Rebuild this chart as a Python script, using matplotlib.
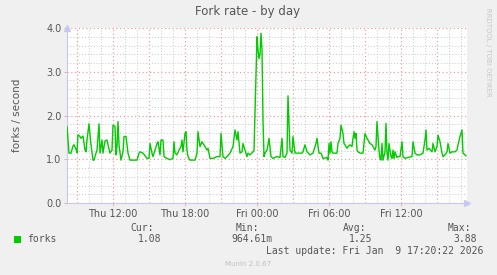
import matplotlib
matplotlib.use("Agg")
import matplotlib.pyplot as plt
import matplotlib.dates as mdates
import numpy as np
from datetime import datetime, timedelta

# ---- data (5-minute samples, index from start time) ----
start_time = datetime(2026, 1, 8, 8, 10)
sample_idx = [0, 2, 4, 6, 7, 9, 10, 11, 13, 14, 16, 18, 19, 20, 22, 24, 26, 27, 29, 30,
              32, 33, 35, 36, 38, 40, 41, 43, 45, 46, 48, 49, 50, 51, 52, 54, 56, 57, 59, 61,
              63, 68, 70, 72, 73, 76, 80, 82, 83, 85, 86, 88, 90, 91, 93, 94, 96, 97, 100, 103,
              106, 107, 108, 110, 112, 114, 115, 116, 118, 119, 120, 121, 123, 128, 130, 131, 133, 135, 136, 138,
              140, 141, 143, 146, 150, 153, 154, 156, 158, 160, 163, 166, 168, 170, 171, 173, 175, 176, 180, 181,
              183, 186, 187, 190, 191, 192, 193, 194, 195, 196, 197, 198, 200, 201, 202, 204, 206, 210, 213, 215,
              216, 218, 220, 221, 223, 225, 226, 228, 230, 233, 235, 236, 238, 240, 243, 246, 249, 250, 252, 254,
              256, 257, 260, 261, 262, 263, 264, 265, 266, 268, 270, 271, 273, 274, 276, 277, 278, 280, 281, 283,
              285, 286, 287, 288, 289, 290, 291, 293, 296, 298, 300, 301, 303, 305, 306, 308, 309, 310, 312, 313,
              314, 315, 316, 318, 319, 320, 321, 322, 324, 325, 326, 327, 328, 330, 331, 333, 335, 336, 338, 341,
              345, 346, 348, 350, 353, 356, 358, 359, 360, 362, 365, 366, 368, 370, 371, 373, 375, 376, 378, 380,
              381, 383, 385, 388, 390, 391, 393, 395, 396, 398, 399]
forks = [1.75, 1.14, 1.14, 1.30, 1.33, 1.23, 1.15, 1.56, 1.52, 1.48, 1.53, 1.21, 1.17, 1.44, 1.81, 1.33, 0.98, 0.98, 1.14, 1.21,
         1.81, 1.14, 1.44, 1.14, 1.42, 1.44, 1.33, 1.14, 1.21, 1.78, 1.75, 1.10, 1.29, 1.86, 1.33, 0.98, 1.17, 1.52, 1.52, 1.14,
         0.98, 0.98, 0.98, 1.14, 1.17, 1.14, 1.02, 1.02, 1.36, 1.14, 1.06, 1.21, 1.36, 1.40, 1.10, 1.44, 1.44, 1.06, 1.02, 0.99,
         1.02, 1.40, 1.14, 1.10, 1.21, 1.29, 1.44, 1.17, 1.59, 1.63, 1.21, 1.06, 0.98, 0.98, 1.14, 1.63, 1.29, 1.40, 1.36, 1.29,
         1.21, 1.25, 1.02, 1.02, 1.06, 1.06, 1.59, 1.06, 1.02, 1.06, 1.14, 1.29, 1.67, 1.44, 1.63, 1.14, 1.17, 1.36, 1.06, 1.14,
         1.10, 1.17, 1.20, 3.80, 3.50, 3.30, 3.40, 3.88, 3.50, 1.90, 1.06, 1.14, 1.21, 1.33, 1.48, 1.06, 1.02, 1.06, 1.04, 1.48,
         1.06, 1.04, 1.14, 2.45, 1.21, 1.14, 1.52, 1.14, 1.14, 1.14, 1.14, 1.17, 1.33, 1.17, 1.10, 1.14, 1.36, 1.48, 1.14, 1.14,
         1.02, 1.02, 1.04, 0.98, 1.36, 1.14, 1.40, 1.17, 1.14, 1.14, 1.14, 1.36, 1.48, 1.78, 1.59, 1.36, 1.33, 1.25, 1.29, 1.33,
         1.29, 1.48, 1.63, 1.48, 1.59, 1.21, 1.17, 1.14, 1.14, 1.59, 1.48, 1.44, 1.36, 1.33, 1.29, 1.21, 1.29, 1.86, 1.21, 1.02,
         0.98, 1.36, 0.98, 1.17, 1.82, 1.14, 0.98, 1.36, 1.06, 1.02, 1.21, 1.02, 1.17, 1.04, 1.06, 1.06, 1.40, 1.06, 1.02, 1.04,
         1.06, 1.40, 1.14, 1.10, 1.10, 1.14, 1.44, 1.67, 1.21, 1.25, 1.17, 1.36, 1.17, 1.29, 1.55, 1.40, 1.14, 1.06, 1.10, 1.17,
         1.36, 1.14, 1.17, 1.17, 1.21, 1.33, 1.52, 1.67, 1.14, 1.10, 1.08]

title = "Fork rate - by day"
ylabel = "forks / second"
series_name = "forks"
stats_labels = ["Cur:", "Min:", "Avg:", "Max:"]
stats_values = ["1.08", "964.61m", "1.25", "3.88"]
last_update = "Last update: Fri Jan  9 17:20:22 2026"
yticks = [0.0, 1.0, 2.0, 3.0, 4.0]

BG = "#F0F0F0"
GREEN = "#00CC00"
TXT = "#555555"
AXC = "#C8C8F0"
MAJ = "#E8A0A0"
MIN = "#C8C8C8"

times = [start_time + timedelta(minutes=5 * i) for i in sample_idx]
x_start = start_time
x_end = start_time + timedelta(minutes=5 * 400)

fig = plt.figure(figsize=(4.97, 2.75), dpi=100, facecolor=BG)
W, H = 497, 275
ax = fig.add_axes([67 / W, (H - 203) / H, 400 / W, 175 / H])
ax.set_facecolor("white")
ax.set_axisbelow(True)

ax.plot(times, forks, color=GREEN, lw=1.0, zorder=3)

ax.set_xlim(x_start, x_end)
ax.set_ylim(0, 4.0)

ax.set_yticks(yticks)
ax.set_yticklabels([f"{v:.1f}" for v in yticks])
ax.set_yticks(np.arange(0, 4.01, 0.2), minor=True)
ax.xaxis.set_major_locator(mdates.HourLocator(byhour=[0, 6, 12, 18]))
ax.xaxis.set_minor_locator(mdates.HourLocator())


def fmt(x, pos=None):
    d = mdates.num2date(x)
    return d.strftime("%a %H:%M")


ax.xaxis.set_major_formatter(plt.FuncFormatter(fmt))

dot = (0, (1, 2))
ax.grid(which="minor", color=MIN, linestyle=dot, lw=0.7)
for h in mdates.drange(datetime(2026, 1, 8, 9), x_end, timedelta(hours=3)):
    ax.axvline(h, color="white", lw=1.0, zorder=1.7)
    ax.axvline(h, color=MAJ, linestyle=dot, lw=0.9, zorder=1.8)
for v in yticks[1:]:
    ax.axhline(v, color="white", lw=1.0, zorder=1.7)
    ax.axhline(v, color=MAJ, linestyle=dot, lw=0.9, zorder=1.8)

for s in ["top", "right"]:
    ax.spines[s].set_visible(False)
for s in ["left", "bottom"]:
    ax.spines[s].set_color(AXC)
    ax.spines[s].set_linewidth(0.8)

ax.tick_params(axis="both", which="both", labelsize=7, length=2, width=0.6, color=MAJ)
ax.tick_params(axis="x", which="major", pad=2)
ax.tick_params(axis="y", which="major", pad=2)
ax.tick_params(axis="both", which="minor", length=0)
for lbl in ax.get_xticklabels() + ax.get_yticklabels():
    lbl.set_color(TXT)

# axis arrows
ax.plot([0], [1.0], marker="^", color=AXC, markersize=4, transform=ax.transAxes, clip_on=False)
ax.plot([1.0], [0], marker=">", color=AXC, markersize=4, transform=ax.transAxes, clip_on=False)

# texts
fig.text(248 / W, 1 - 11 / H, title, ha="center", va="center", fontsize=8.5, color=TXT)
fig.text(17 / W, 1 - 115 / H, ylabel, ha="center", va="center", rotation=90, fontsize=7.5, color=TXT)
fig.text(488 / W, 1 - 52 / H, "RRDTOOL / TOBI OETIKER", ha="center", va="center", rotation=270,
         fontsize=5, color="#C8C8C8")

mono = "DejaVu Sans Mono"
fig.patches.append(plt.Rectangle((14 / W, 1 - 243 / H), 7 / W, 7 / H, transform=fig.transFigure,
                                 facecolor=GREEN, edgecolor="none"))
fig.text(27 / W, 1 - 239 / H, series_name, ha="left", va="center", fontsize=7, family=mono, color=TXT)
label_right = [154, 259, 366, 471]
value_right = [161, 273, 372, 477]
for lab, val, lr, vr in zip(stats_labels, stats_values, label_right, value_right):
    fig.text(lr / W, 1 - 228 / H, lab, ha="right", va="center", fontsize=7, family=mono, color=TXT)
    fig.text(vr / W, 1 - 239 / H, val, ha="right", va="center", fontsize=7, family=mono, color=TXT)
fig.text(483 / W, 1 - 251 / H, last_update, ha="right", va="center", fontsize=7, family=mono, color=TXT)
fig.text(248 / W, 1 - 264 / H, "Munin 2.0.67", ha="center", va="center", fontsize=5, color="#C0C0C0")

fig.savefig("out.png", dpi=100, facecolor=BG)
